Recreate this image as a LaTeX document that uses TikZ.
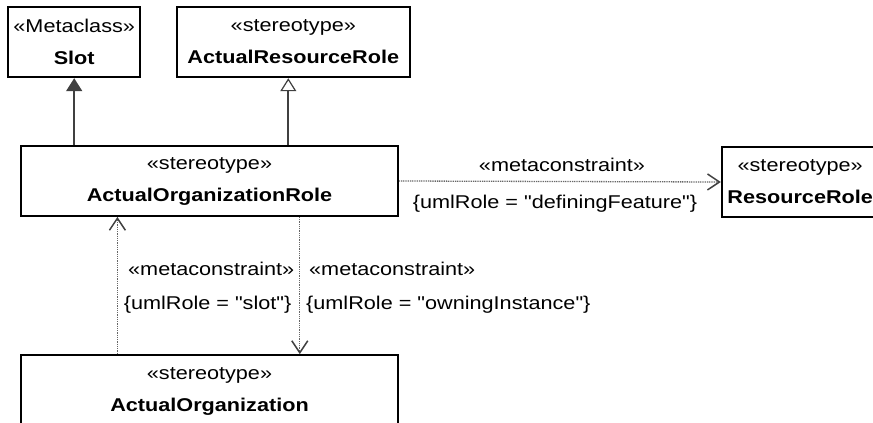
\documentclass[tikz,border=0pt]{standalone}
\usepackage{fontspec}
\setmainfont{Liberation Sans}[FakeStretch=1.17, Ligatures=TeXOff]
\usetikzlibrary{arrows.meta}

\begin{document}
\begin{tikzpicture}[x=1pt, y=-1pt,
  umlbox/.style={draw=black, line width=1.8pt, fill=white, align=center, inner sep=0pt,
    font=\fontsize{18.5}{32}\selectfont},
  lbl/.style={inner sep=0pt, font=\fontsize{18.5}{22}\selectfont},
  gen/.style={draw=black!75, line width=1.8pt},
  dep/.style={draw=black!60, line width=1.3pt, dash pattern=on 1pt off 0.8pt,
    -{Straight Barb[length=12pt, width=16pt, line width=1.5pt, color=black!75]}}]
  % Page frame
  \useasboundingbox (0,0) rectangle (873,423);
  \clip (0,0) rectangle (873,423);

  % Classes
  \node[umlbox, minimum width=131.7pt, minimum height=70.6pt] (slot) at (74.2,42) {«Metaclass»\\\textbf{Slot}};
  \node[umlbox, minimum width=233.3pt, minimum height=70.6pt] (arr) at (293.3,42) {«stereotype»\\\textbf{ActualResourceRole}};
  \node[umlbox, minimum width=377.6pt, minimum height=70pt] (aor) at (209.5,181) {«stereotype»\\\textbf{ActualOrganizationRole}};
  \node[umlbox, minimum width=157pt, minimum height=69.4pt] (rr) at (800.2,182) {«stereotype»\\\textbf{ResourceRole}};
  \node[umlbox, minimum width=377.6pt, minimum height=72pt] (ao) at (209.5,391) {«stereotype»\\\textbf{ActualOrganization}};

  % Generalizations
  \draw[gen, -{Triangle[length=13pt, width=16pt, color=black!75]}] (slot.south |- aor.north) -- (slot.south);
  \coordinate (genbase) at ([xshift=-5pt]arr.south);
  \draw[gen, -{Triangle[open, length=13pt, width=16pt, line width=1.2pt, fill=white]}] (genbase |- aor.north) -- (genbase);

  % Metaconstraints
  \draw[dep] (aor.east) -- (rr.west);
  \node[lbl, anchor=base] (mcright) at (562,171.5) {«metaconstraint»};
  \node[lbl, anchor=base] (roleright) at (555,208) {\{umlRole = "definingFeature"\}};

  \draw[dep] ([xshift=97.6pt]ao.north west) -- ([xshift=97.6pt]aor.south west);
  \node[lbl, anchor=base west] (mcup) at (128,275) {«metaconstraint»};
  \node[lbl, anchor=base west] (roleup) at (123.6,309.5) {\{umlRole = "slot"\}};

  \draw[dep] ([xshift=280pt]aor.south west) -- ([xshift=280pt]ao.north west);
  \node[lbl, anchor=base west] (mcdown) at (309,275) {«metaconstraint»};
  \node[lbl, anchor=base west] (roledown) at (306,309.5) {\{umlRole = "owningInstance"\}};
\end{tikzpicture}
\end{document}
